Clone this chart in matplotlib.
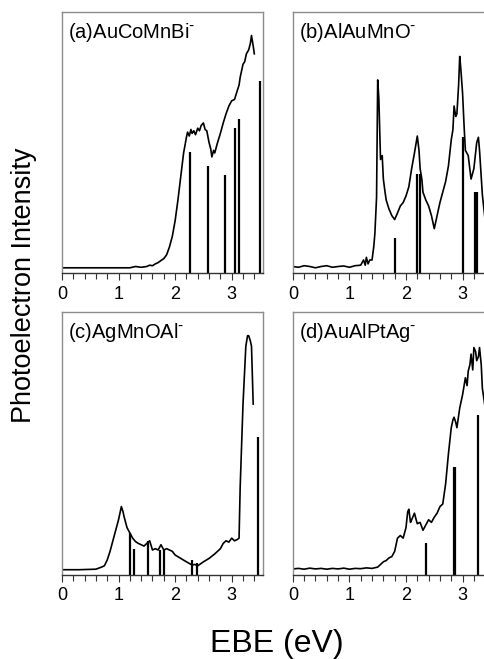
import matplotlib.pyplot as plt
from matplotlib.ticker import MultipleLocator

plt.rcParams['font.family'] = ['Liberation Sans', 'DejaVu Sans']
plt.rcParams['mathtext.default'] = 'regular'

# (a) AuCoMnBi-
a_x = [0.0, 0.3, 0.6, 0.9, 1.2, 1.3, 1.4, 1.5, 1.55, 1.6, 1.65, 1.7, 1.75, 1.8, 1.85, 1.9, 1.95, 2.0, 2.05,
       2.1, 2.15, 2.2, 2.22, 2.25, 2.28, 2.3, 2.33, 2.36, 2.4, 2.43, 2.46, 2.5, 2.53, 2.56, 2.6, 2.63, 2.65,
       2.68, 2.7, 2.75, 2.8, 2.85, 2.9, 2.95, 3.0, 3.05, 3.1, 3.13, 3.15, 3.2, 3.23, 3.26, 3.3, 3.33, 3.35,
       3.38, 3.4]
a_y = [0.02, 0.02, 0.02, 0.02, 0.02, 0.025, 0.022, 0.025, 0.03, 0.028, 0.035, 0.04, 0.048, 0.055, 0.07,
       0.10, 0.14, 0.20, 0.28, 0.37, 0.46, 0.52, 0.54, 0.525, 0.55, 0.535, 0.545, 0.53, 0.555, 0.545, 0.565,
       0.575, 0.55, 0.545, 0.50, 0.475, 0.445, 0.47, 0.46, 0.50, 0.535, 0.575, 0.61, 0.64, 0.66, 0.665,
       0.70, 0.72, 0.75, 0.80, 0.81, 0.84, 0.855, 0.88, 0.91, 0.87, 0.84]
a_sx = [2.27, 2.59, 2.88, 3.06, 3.13, 3.50]
a_sy = [0.465, 0.41, 0.375, 0.555, 0.59, 0.737]

# (b) AlAuMnO-
b_x = [0.0, 0.1, 0.2, 0.3, 0.4, 0.5, 0.6, 0.7, 0.8, 0.9, 1.0, 1.1, 1.2, 1.25, 1.28, 1.3, 1.33, 1.36, 1.4,
       1.43, 1.45, 1.48, 1.5, 1.52, 1.55, 1.58, 1.6, 1.63, 1.65, 1.7, 1.75, 1.8, 1.85, 1.9, 1.95, 2.0, 2.05,
       2.1, 2.15, 2.2, 2.23, 2.25, 2.28, 2.3, 2.35, 2.4, 2.45, 2.5, 2.55, 2.6, 2.65, 2.7, 2.75, 2.8, 2.83,
       2.85, 2.88, 2.9, 2.93, 2.95, 2.97, 3.0, 3.03, 3.05, 3.1, 3.15, 3.2, 3.25, 3.28, 3.3, 3.35, 3.4]
b_y = [0.025, 0.022, 0.028, 0.025, 0.02, 0.025, 0.028, 0.022, 0.025, 0.027, 0.022, 0.028, 0.03, 0.05,
       0.03, 0.06, 0.035, 0.05, 0.05, 0.10, 0.15, 0.29, 0.74, 0.67, 0.435, 0.45, 0.36, 0.31, 0.28, 0.245,
       0.22, 0.205, 0.23, 0.257, 0.27, 0.295, 0.33, 0.40, 0.46, 0.525, 0.47, 0.40, 0.36, 0.31, 0.28, 0.257,
       0.22, 0.17, 0.22, 0.27, 0.31, 0.35, 0.41, 0.51, 0.55, 0.64, 0.60, 0.61, 0.72, 0.83, 0.78, 0.69, 0.55,
       0.47, 0.45, 0.36, 0.40, 0.50, 0.52, 0.47, 0.30, 0.20]
b_sx = [1.80, 2.20, 2.255, 3.00, 3.22, 3.25]
b_sy = [0.135, 0.38, 0.38, 0.52, 0.31, 0.31]

# (c) AgMnOAl-
c_x = [0.0, 0.3, 0.6, 0.7, 0.75, 0.8, 0.85, 0.9, 0.95, 1.0, 1.05, 1.08, 1.1, 1.15, 1.2, 1.25, 1.3, 1.35,
       1.4, 1.45, 1.5, 1.55, 1.6, 1.65, 1.7, 1.75, 1.8, 1.85, 1.9, 1.95, 2.0, 2.1, 2.2, 2.3, 2.35, 2.4, 2.5,
       2.6, 2.7, 2.8, 2.85, 2.9, 2.95, 3.0, 3.05, 3.1, 3.13, 3.15, 3.2, 3.25, 3.28, 3.3, 3.33, 3.35, 3.38]
c_y = [0.02, 0.02, 0.022, 0.03, 0.035, 0.057, 0.09, 0.13, 0.17, 0.21, 0.26, 0.24, 0.22, 0.18, 0.16, 0.14,
       0.127, 0.12, 0.115, 0.11, 0.12, 0.13, 0.095, 0.10, 0.095, 0.115, 0.095, 0.10, 0.095, 0.09, 0.076,
       0.063, 0.05, 0.038, 0.04, 0.035, 0.05, 0.063, 0.08, 0.10, 0.12, 0.13, 0.125, 0.14, 0.13, 0.135, 0.14,
       0.335, 0.65, 0.87, 0.91, 0.91, 0.89, 0.87, 0.65]
c_sx = [1.20, 1.275, 1.52, 1.73, 1.80, 2.30, 2.39, 3.46]
c_sy = [0.16, 0.10, 0.13, 0.095, 0.095, 0.057, 0.045, 0.525]

# (d) AuAlPtAg-
d_x = [0.0, 0.1, 0.2, 0.3, 0.4, 0.5, 0.6, 0.7, 0.8, 0.9, 1.0, 1.1, 1.2, 1.3, 1.4, 1.5, 1.55, 1.6, 1.65,
       1.7, 1.75, 1.8, 1.83, 1.85, 1.9, 1.95, 2.0, 2.03, 2.05, 2.08, 2.1, 2.15, 2.18, 2.2, 2.25, 2.3, 2.35,
       2.4, 2.45, 2.5, 2.55, 2.6, 2.65, 2.7, 2.75, 2.8, 2.83, 2.85, 2.88, 2.9, 2.95, 3.0, 3.05, 3.08, 3.1,
       3.13, 3.15, 3.18, 3.2, 3.23, 3.25, 3.28, 3.3, 3.33, 3.35, 3.4]
d_y = [0.023, 0.025, 0.022, 0.026, 0.023, 0.025, 0.022, 0.025, 0.023, 0.026, 0.022, 0.025, 0.024, 0.027,
       0.025, 0.03, 0.04, 0.05, 0.055, 0.065, 0.07, 0.09, 0.12, 0.14, 0.15, 0.14, 0.18, 0.24, 0.25, 0.20,
       0.21, 0.235, 0.21, 0.195, 0.20, 0.17, 0.19, 0.21, 0.20, 0.22, 0.235, 0.26, 0.27, 0.345, 0.46, 0.56,
       0.59, 0.60, 0.58, 0.56, 0.635, 0.685, 0.75, 0.72, 0.775, 0.80, 0.84, 0.78, 0.865, 0.85, 0.815, 0.83,
       0.865, 0.80, 0.71, 0.635]
d_sx = [2.355, 2.84, 2.865, 3.28]
d_sy = [0.12, 0.41, 0.41, 0.61]

panels = [
    ('(a)', 'AuCoMnBi', a_x, a_y, a_sx, a_sy),
    ('(b)', 'AlAuMnO', b_x, b_y, b_sx, b_sy),
    ('(c)', 'AgMnOAl', c_x, c_y, c_sx, c_sy),
    ('(d)', 'AuAlPtAg', d_x, d_y, d_sx, d_sy),
]
boxes = [
    [0.128, 0.5857, 0.415, 0.396],
    [0.605, 0.5857, 0.415, 0.396],
    [0.128, 0.1275, 0.415, 0.399],
    [0.605, 0.1275, 0.415, 0.399],
]

fig = plt.figure(figsize=(4.84, 6.59), dpi=100)
for (tag, name, x, y, sx, sy), box in zip(panels, boxes):
    ax = fig.add_axes(box)
    ax.plot(x, y, color='black', lw=1.2)
    ax.vlines(sx, 0, sy, color='black', lw=1.6)
    ax.set_xlim(0, 3.55)
    ax.set_ylim(0, 1)
    ax.set_yticks([])
    ax.xaxis.set_major_locator(MultipleLocator(1))
    ax.xaxis.set_minor_locator(MultipleLocator(0.2))
    ax.tick_params(axis='x', which='major', length=5, width=0.8, color='#333333',
                   labelsize=13, pad=4)
    ax.tick_params(axis='x', which='minor', length=4, width=0.8, color='#333333')
    for s in ['left', 'top', 'right']:
        ax.spines[s].set_color('#8c8c8c')
        ax.spines[s].set_linewidth(1.0)
    ax.spines['bottom'].set_color('#333333')
    ax.spines['bottom'].set_linewidth(1.0)
    ax.text(0.03, 0.965, tag + name + r'$^{\text{-}}$', transform=ax.transAxes,
            fontsize=14.5, ha='left', va='top')

fig.text(0.05, 0.5675, 'Photoelectron Intensity', rotation=90, fontsize=19.5,
         ha='center', va='center')
fig.text(0.572, 0.023, 'EBE (eV)', fontsize=23, ha='center', va='center')

plt.savefig('out.png', dpi=100)
plt.close()
